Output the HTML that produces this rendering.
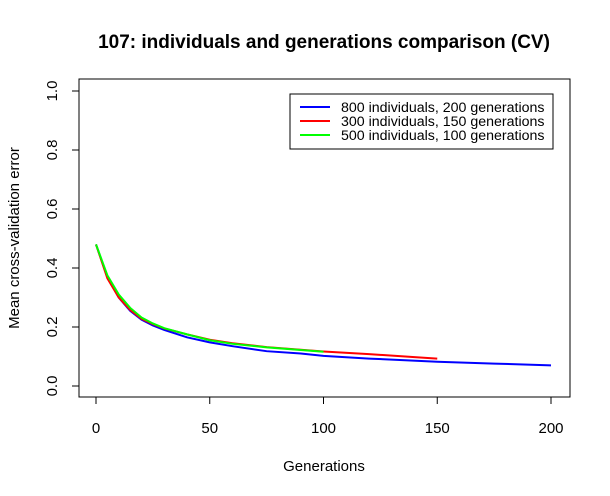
<!DOCTYPE html>
<html><head><meta charset="utf-8"><style>body{margin:0;background:#fff}svg{display:block;font-family:"Liberation Sans",sans-serif}</style></head>
<body>
<svg id="c" width="610" height="496">
<text x="324" y="48" text-anchor="middle" font-size="19" font-weight="bold">107: individuals and generations comparison (CV)</text>
<rect x="79" y="79" width="491" height="318" fill="none" stroke="#000"/>
<text x="324" y="471" text-anchor="middle" font-size="15">Generations</text>
<text transform="translate(19,238) rotate(-90)" text-anchor="middle" font-size="15">Mean cross-validation error</text>
<g id="axes"></g><g id="series"></g>
<g>
<rect x="290" y="94" width="263" height="55" fill="#fff" stroke="#000"/>
<line x1="300" x2="330" y1="107" y2="107" stroke="#00f" stroke-width="2"/>
<text x="341" y="112" font-size="14.2">800 individuals, 200 generations</text>
<line x1="300" x2="330" y1="121" y2="121" stroke="#f00" stroke-width="2"/>
<text x="341" y="126" font-size="14.2">300 individuals, 150 generations</text>
<line x1="300" x2="330" y1="135" y2="135" stroke="#0f0" stroke-width="2"/>
<text x="341" y="140" font-size="14.2">500 individuals, 100 generations</text>
</g>
</svg>
<script>
const xTicks=[0,50,100,150,200];
const yTicks=[0,0.2,0.4,0.6,0.8,1.0];
const yTickLabels=["0.0","0.2","0.4","0.6","0.8","1.0"];
const blueGen=[0,5,10,15,20,25,30,40,50,60,75,90,100,120,150,175,200];
const blueVal=[0.48,0.37,0.30,0.255,0.225,0.205,0.19,0.165,0.148,0.135,0.118,0.11,0.102,0.093,0.082,0.076,0.07];
const redGen=[0,5,10,15,20,25,30,40,50,60,75,90,100,120,140,150];
const redVal=[0.48,0.365,0.30,0.258,0.228,0.21,0.195,0.175,0.157,0.145,0.132,0.123,0.117,0.108,0.098,0.093];
const greenGen=[0,5,10,15,20,25,30,40,50,60,75,90,100];
const greenVal=[0.48,0.375,0.31,0.265,0.232,0.212,0.196,0.175,0.155,0.143,0.131,0.122,0.116];
const NS="http://www.w3.org/2000/svg";
const xs=v=>96+v*2.275, ys=v=>386-v*295;
const ax=document.getElementById('axes');
function mk(t,a,p){const e=document.createElementNS(NS,t);for(const k in a)e.setAttribute(k,a[k]);p.appendChild(e);return e;}
mk('line',{x1:xs(xTicks[0]),x2:xs(xTicks[xTicks.length-1]),y1:397,y2:397,stroke:'#000'},ax);
xTicks.forEach(t=>{mk('line',{x1:xs(t),x2:xs(t),y1:397,y2:404,stroke:'#000'},ax);
const e=mk('text',{x:xs(t),y:433,'text-anchor':'middle','font-size':15},ax);e.textContent=t;

});
mk('line',{x1:79,x2:79,y1:ys(0),y2:ys(1),stroke:'#000'},ax);
yTicks.forEach((t,i)=>{mk('line',{x1:72,x2:79,y1:ys(t),y2:ys(t),stroke:'#000'},ax);
const e=mk('text',{transform:`translate(57,${ys(t)}) rotate(-90)`,'text-anchor':'middle','font-size':15},ax);e.textContent=yTickLabels[i];

});
const sg=document.getElementById('series');
[[blueGen,blueVal,'#00f','line-800-individuals'],[redGen,redVal,'#f00','line-300-individuals'],[greenGen,greenVal,'#0f0','line-500-individuals']].forEach(([g,v,c,n])=>{
const p=mk('polyline',{points:g.map((x,i)=>xs(x)+','+ys(v[i])).join(' '),fill:'none',stroke:c,'stroke-width':2},sg);

});
</script>
</body></html>
